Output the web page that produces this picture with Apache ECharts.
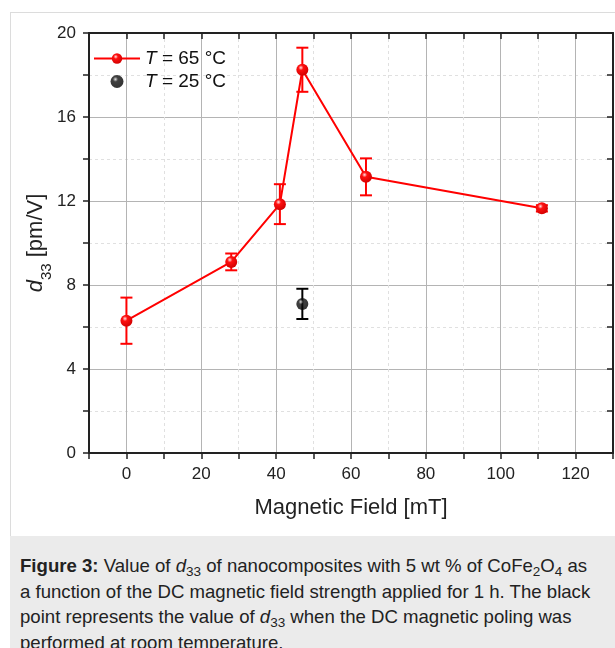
<!DOCTYPE html>
<html>
<head>
<meta charset="utf-8">
<script src="https://cdn.jsdelivr.net/npm/echarts@6/dist/echarts.min.js"></script>
<style>
  body { margin: 0; background: #fff; width: 615px; height: 648px; overflow: hidden; position: relative; }
  #frame { position: absolute; left: 10px; top: 12px; width: 620px; height: 540px; border-top: 1px solid #dcdcdc; border-left: 1px solid #dcdcdc; }
  #chart { position: absolute; left: 0; top: 0; width: 615px; height: 536px; }
  #caption {
    position: absolute; left: 10px; top: 536px; width: 605px; height: 112px;
    background: #ebebeb; box-sizing: border-box; padding: 17px 15px 0 10px;
    font-family: "Liberation Sans", Arial, sans-serif; font-size: 18.6px; line-height: 25.6px; color: #222;
  }
  #caption sub { font-size: 13.5px; line-height: 0; vertical-align: -4px; }
</style>
</head>
<body>
<div id="frame"></div>
<div id="chart"></div>
<div id="caption"><b>Figure 3:</b> Value of <i>d</i><sub>33</sub> of nanocomposites with 5 wt % of CoFe<sub>2</sub>O<sub>4</sub> as a function of the DC magnetic field strength applied for 1 h. The black point represents the value of <i>d</i><sub>33</sub> when the DC magnetic poling was performed at room temperature.</div>
<script>
// T = 65 °C
const field65 = [0, 28, 41, 47, 64, 111];
const d33_65 = [6.3, 9.1, 11.85, 18.25, 13.15, 11.65];
const err65 = [1.1, 0.4, 0.95, 1.05, 0.88, 0.15];
// T = 25 °C
const field25 = [47];
const d33_25 = [7.1];
const err25 = [0.72];

const FONT = 'Liberation Sans, Arial, sans-serif';

const redBall = {
  type: 'radial', x: 0.38, y: 0.33, r: 0.7,
  colorStops: [{ offset: 0, color: '#ffe6e6' }, { offset: 0.3, color: '#ff1010' }, { offset: 1, color: '#d00000' }]
};
const blackBall = {
  type: 'radial', x: 0.38, y: 0.33, r: 0.7,
  colorStops: [{ offset: 0, color: '#d8d8d8' }, { offset: 0.28, color: '#111' }, { offset: 1, color: '#000' }]
};

const chart = echarts.init(document.getElementById('chart'));

function errorBars(color) {
  return function (params, api) {
    const x = api.value(0), y = api.value(1), e = api.value(2);
    const top = api.coord([x, y + e]);
    const bot = api.coord([x, y - e]);
    const hw = 6;
    const style = { stroke: color, lineWidth: 2 };
    return {
      type: 'group',
      children: [
        { type: 'line', shape: { x1: top[0], y1: top[1], x2: bot[0], y2: bot[1] }, style: style },
        { type: 'line', shape: { x1: top[0] - hw, y1: top[1], x2: top[0] + hw, y2: top[1] }, style: style },
        { type: 'line', shape: { x1: bot[0] - hw, y1: bot[1], x2: bot[0] + hw, y2: bot[1] }, style: style }
      ]
    };
  };
}

const axisFont = { fontFamily: FONT, color: '#222' };
const lineStyleAxis = { color: '#222', width: 2 };
const tickOut = { show: true, inside: false, length: 6, lineStyle: { color: '#222', width: 1.5 } };
const tickIn = { show: true, inside: true, length: 6, lineStyle: { color: '#222', width: 1.5 } };
const minor = { show: true, splitNumber: 2, length: 6, lineStyle: { color: '#222', width: 1.5 } };
const majorGrid = { show: true, lineStyle: { color: '#b4b4b4', width: 1 } };
const minorGrid = { show: true, lineStyle: { color: '#e0e0e0', width: 1, type: [3, 3] } };

const xBase = {
  type: 'value', min: -10, max: 130, splitNumber: 7, gridIndex: 0,
  axisLine: { show: true, onZero: false, lineStyle: lineStyleAxis }
};
const yBase = {
  type: 'value', min: 0, max: 20, interval: 4, gridIndex: 0,
  axisLine: { show: true, onZero: false, lineStyle: lineStyleAxis }
};

chart.setOption({
  animation: false,
  grid: { left: 89, right: 2, top: 33, bottom: 83 },
  legend: {
    left: 93, top: 49, orient: 'vertical', padding: 0,
    itemWidth: 46, itemHeight: 13, itemGap: 4,
    data: ['T = 65 °C', 'T = 25 °C'],
    formatter: name => '{i|T}' + name.slice(1),
    textStyle: {
      fontFamily: FONT, fontSize: 19, color: '#111',
      rich: { i: { fontStyle: 'italic', fontSize: 19, fontFamily: FONT, color: '#111' } }
    }
  },
  xAxis: [
    Object.assign({}, xBase, {
      position: 'bottom',
      name: 'Magnetic Field [mT]', nameLocation: 'middle', nameGap: 44,
      nameTextStyle: Object.assign({ fontSize: 22 }, axisFont),
      axisTick: tickOut,
      minorTick: minor,
      axisLabel: Object.assign({ fontSize: 17, margin: 13, showMinLabel: false, showMaxLabel: false }, axisFont),
      splitLine: majorGrid,
      minorSplitLine: minorGrid
    }),
    Object.assign({}, xBase, {
      position: 'top',
      axisTick: tickIn,
      minorTick: minor,
      axisLabel: { show: false },
      splitLine: { show: false }
    })
  ],
  yAxis: [
    Object.assign({}, yBase, {
      position: 'left',
      name: '{i|d}{s|33} [pm/V]', nameLocation: 'middle', nameGap: 42,
      nameMoveOverlap: false,
      nameTextStyle: Object.assign({
        fontSize: 22,
        rich: {
          i: { fontStyle: 'italic', fontSize: 22, fontFamily: FONT, color: '#222' },
          s: { fontSize: 15, verticalAlign: 'bottom', padding: [0, 0, -7, 0], fontFamily: FONT, color: '#222' }
        }
      }, axisFont),
      axisTick: tickOut,
      minorTick: minor,
      axisLabel: Object.assign({ fontSize: 17, margin: 13 }, axisFont),
      splitLine: majorGrid,
      minorSplitLine: minorGrid
    }),
    Object.assign({}, yBase, {
      position: 'right',
      axisTick: tickIn,
      minorTick: minor,
      axisLabel: { show: false },
      splitLine: { show: false }
    })
  ],
  series: [
    {
      type: 'custom', name: 'err65', z: 3,
      renderItem: errorBars('#ff0000'),
      encode: { x: 0, y: 1 },
      data: field65.map((x, i) => [x, d33_65[i], err65[i]])
    },
    {
      type: 'custom', name: 'err25', z: 3,
      renderItem: errorBars('#000000'),
      encode: { x: 0, y: 1 },
      data: field25.map((x, i) => [x, d33_25[i], err25[i]])
    },
    {
      type: 'line', name: 'T = 65 °C', z: 4,
      data: field65.map((x, i) => [x, d33_65[i]]),
      symbol: 'circle', symbolSize: 12,
      lineStyle: { color: '#ff0000', width: 2 },
      itemStyle: { color: redBall, borderWidth: 0 }
    },
    {
      type: 'scatter', name: 'T = 25 °C', z: 4,
      data: field25.map((x, i) => [x, d33_25[i]]),
      symbol: 'circle', symbolSize: 12,
      itemStyle: { color: blackBall }
    }
  ]
});
</script>
</body>
</html>
